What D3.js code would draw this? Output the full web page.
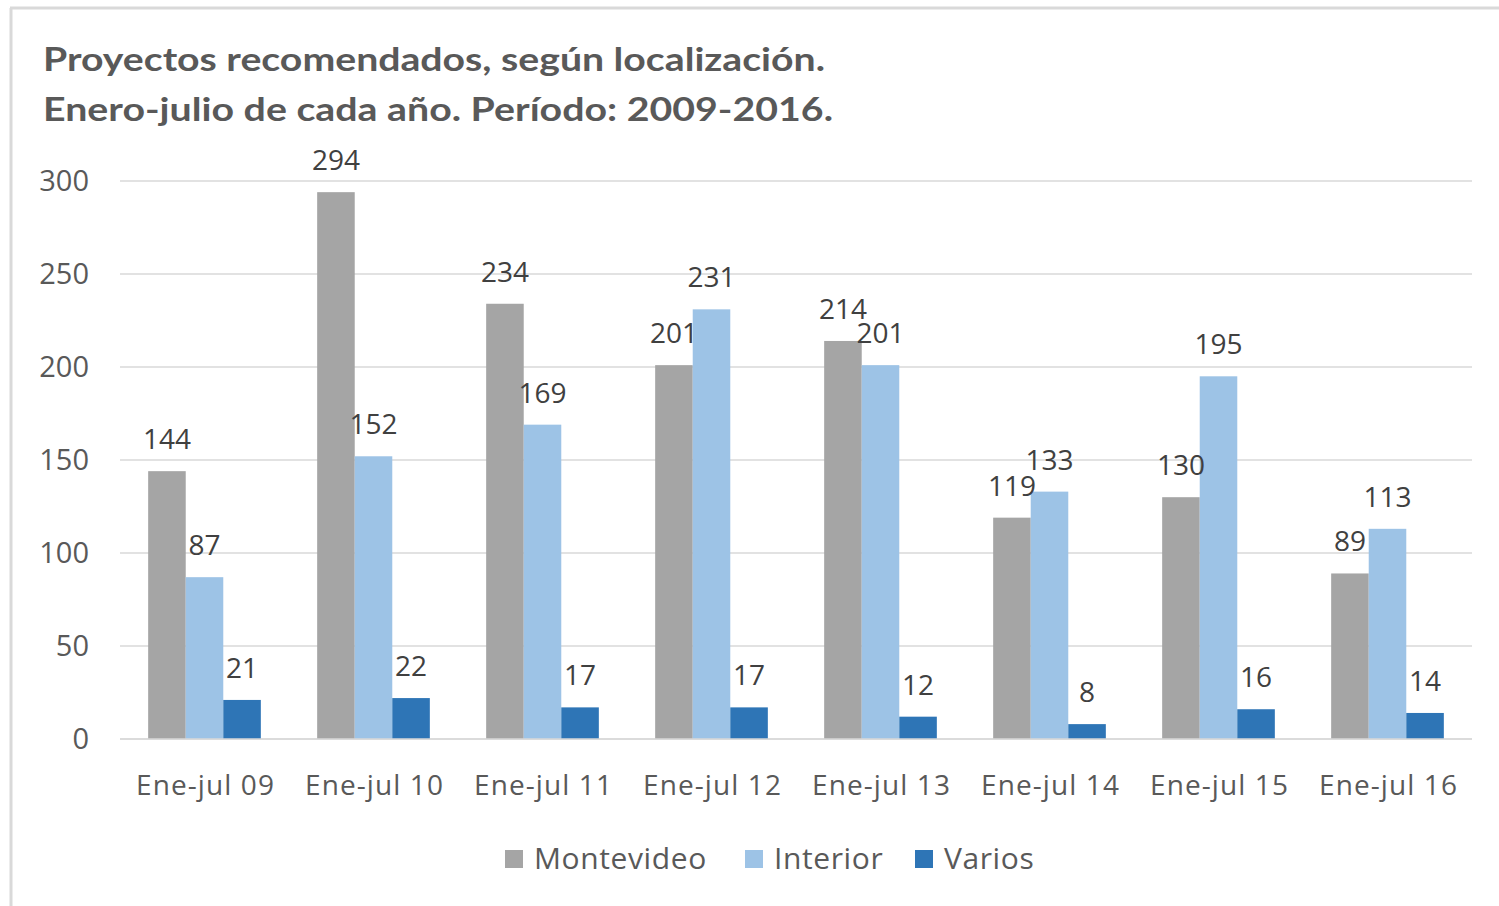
<!DOCTYPE html>
<html>
<head>
<meta charset="utf-8">
<script src="https://cdn.jsdelivr.net/npm/d3@7"></script>
<style>
  body { margin: 0; background: #fff; }
  svg { display: block; }
</style>
</head>
<body>
<div id="chart"></div>
<script>
// data
const categories = ["Ene-jul 09", "Ene-jul 10", "Ene-jul 11", "Ene-jul 12", "Ene-jul 13", "Ene-jul 14", "Ene-jul 15", "Ene-jul 16"];
const seriesNames = ["Montevideo", "Interior", "Varios"];
const montevideo = [144, 294, 234, 201, 214, 119, 130, 89];
const interior = [87, 152, 169, 231, 201, 133, 195, 113];
const varios = [21, 22, 17, 17, 12, 8, 16, 14];
const yTicks = [0, 50, 100, 150, 200, 250, 300];
const colors = ["#a5a5a5", "#9dc3e6", "#2e75b6"];

const width = 1499, height = 906;
const margin = { top: 181, right: 27, bottom: 167, left: 120 };

const svg = d3.select("#chart").append("svg")
    .attr("width", width)
    .attr("height", height);

// outer chart frame (only top and left edges visible)
svg.append("line")
    .attr("x1", 10).attr("x2", width).attr("y1", 8).attr("y2", 8)
    .attr("stroke", "#d9d9d9").attr("stroke-width", 3);
svg.append("line")
    .attr("x1", 11).attr("x2", 11).attr("y1", 8).attr("y2", height)
    .attr("stroke", "#d9d9d9").attr("stroke-width", 3);

// title
const title = svg.append("g")
    .style("font-family", "Lato, 'Open Sans', sans-serif")
    .style("font-weight", "700")
    .style("font-size", "33px")
    .attr("fill", "#595959");
title.append("text").attr("x", 43).attr("y", 71)
    .attr("textLength", 782).attr("lengthAdjust", "spacingAndGlyphs")
    .text("Proyectos recomendados, según localización.");
title.append("text").attr("x", 43).attr("y", 121)
    .attr("textLength", 790).attr("lengthAdjust", "spacingAndGlyphs")
    .text("Enero-julio de cada año. Período: 2009-2016.");

const x0 = d3.scaleBand()
    .domain(categories)
    .range([margin.left, width - margin.right])
    .paddingInner(1 / 3)
    .paddingOuter(1 / 6);

const x1 = d3.scaleBand()
    .domain(seriesNames)
    .range([0, x0.bandwidth()]);

const y = d3.scaleLinear()
    .domain([0, 300])
    .range([height - margin.bottom, margin.top]);

// gridlines
svg.append("g")
    .selectAll("line")
    .data(yTicks)
    .join("line")
    .attr("x1", margin.left)
    .attr("x2", width - margin.right)
    .attr("y1", d => y(d))
    .attr("y2", d => y(d))
    .attr("stroke", "#d9d9d9")
    .attr("stroke-width", 1.5);

// y axis labels
const yAxis = svg.append("g")
    .attr("transform", `translate(${margin.left - 31},0)`)
    .call(d3.axisLeft(y).tickValues(yTicks).tickSize(0).tickPadding(0));
yAxis.select(".domain").remove();
yAxis.selectAll("text")
    .style("font-family", "'Open Sans', sans-serif")
    .style("font-size", "29px")
    .attr("fill", "#595959");

// x axis labels
const xAxis = svg.append("g")
    .attr("transform", `translate(0,${y(0) + 35})`)
    .call(d3.axisBottom(x0).tickSize(0).tickPadding(0));
xAxis.select(".domain").remove();
xAxis.selectAll("text")
    .attr("dy", "0.75em")
    .attr("dx", "1px")
    .style("font-family", "'Open Sans', sans-serif")
    .style("font-size", "28px")
    .style("letter-spacing", "1.1px")
    .attr("fill", "#595959");

// bars
const rows = categories.map((c, i) => ({
    cat: c,
    values: [montevideo[i], interior[i], varios[i]].map((v, j) => ({ key: seriesNames[j], value: v, color: colors[j] }))
}));

const groups = svg.append("g")
    .selectAll("g")
    .data(rows)
    .join("g")
    .attr("transform", d => `translate(${x0(d.cat)},0)`);

groups.selectAll("rect")
    .data(d => d.values)
    .join("rect")
    .attr("x", d => x1(d.key))
    .attr("width", x1.bandwidth())
    .attr("y", d => y(d.value))
    .attr("height", d => y(0) - y(d.value))
    .attr("fill", d => d.color);

groups.selectAll("text")
    .data(d => d.values)
    .join("text")
    .attr("x", d => x1(d.key) + x1.bandwidth() / 2)
    .attr("y", d => y(d.value) - 22)
    .attr("text-anchor", "middle")
    .style("font-family", "'Open Sans', sans-serif")
    .style("font-size", "28px")
    .attr("fill", "#404040")
    .text(d => d.value);

// x-axis baseline
svg.append("line")
    .attr("x1", margin.left).attr("x2", width - margin.right)
    .attr("y1", y(0)).attr("y2", y(0))
    .attr("stroke", "#d9d9d9").attr("stroke-width", 1.5);

// legend
const legendX = [505, 745, 915];
const legend = svg.append("g")
    .selectAll("g")
    .data(seriesNames)
    .join("g")
    .attr("transform", (d, i) => `translate(${legendX[i]},850)`);
legend.append("rect")
    .attr("width", 18).attr("height", 18)
    .attr("fill", (d, i) => colors[i]);
legend.append("text")
    .attr("x", 29).attr("y", 19)
    .style("font-family", "'Open Sans', sans-serif")
    .style("font-size", "30px")
    .style("letter-spacing", "0.6px")
    .attr("fill", "#595959")
    .text(d => d);
</script>
</body>
</html>
